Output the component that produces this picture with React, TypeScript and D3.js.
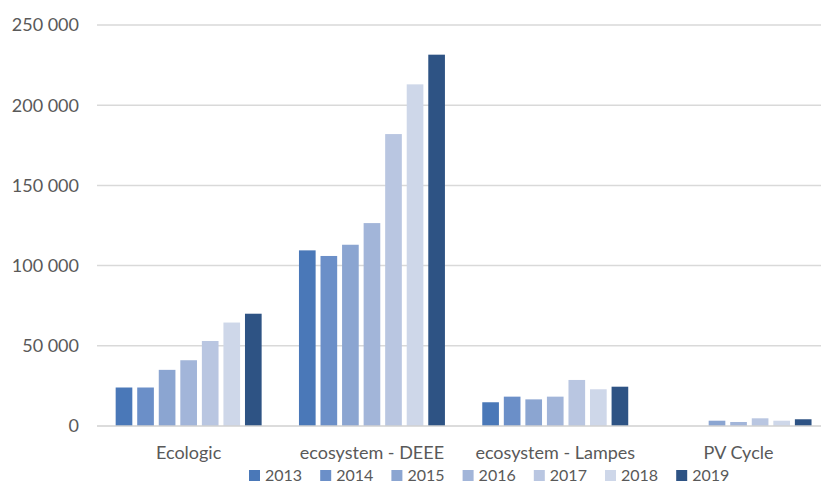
import React from "react";
import * as d3 from "d3";

const categories = ["Ecologic", "ecosystem - DEEE", "ecosystem - Lampes", "PV Cycle"];
const years = ["2013", "2014", "2015", "2016", "2017", "2018", "2019"];
// values per category, in order of years
const ecologic = [24000, 24000, 35000, 41000, 53000, 64500, 70000];
const deee = [109500, 106000, 113000, 126500, 182000, 213000, 231500];
const lampes = [14800, 18300, 16600, 18300, 28700, 22900, 24500];
const pvCycle = [0, 0, 3300, 2500, 4800, 3300, 4200];
const yTicks = [0, 50000, 100000, 150000, 200000, 250000];
const colors = ["#4a78b8", "#6b8fc8", "#8ba5d1", "#a2b5d9", "#b9c6e1", "#ced7e9", "#2e5384"];

const seriesByCategory = [ecologic, deee, lampes, pvCycle];

const W = 821;
const H = 485;
const left = 97;
const top = 25;
const bottom = 426;
const catStep = 183.3;

export default function App() {
  const x0 = d3.scaleBand<string>().domain(categories).range([left, left + catStep * categories.length]).padding(0);
  const x1 = d3.scaleBand<string>().domain(years).range([0, x0.bandwidth()]).paddingInner(0.227).paddingOuter(0.866);
  const y = d3.scaleLinear().domain([0, 250000]).range([bottom, top]);
  const fmt = (v: number) => d3.format(",")(v).replace(/,/g, " ");
  const font = "Lato, 'Open Sans', sans-serif";
  const legendStart = 249;
  const legendStep = 71.2;

  return (
    <svg width={W} height={H} style={{ position: "absolute", left: 0, top: 0, background: "#fff" }}>
      <rect x={0} y={0} width={W} height={H} fill="#fff" />
      {yTicks.map((t) => (
        <g key={t}>
          {t > 0 && <line x1={left} x2={W} y1={y(t)} y2={y(t)} stroke="#d9d9d9" strokeWidth={1.5} />}
          <text x={79} y={y(t)} dy="0.35em" textAnchor="end" fontFamily={font} fontSize={18} fill="#595959">
            {fmt(t)}
          </text>
        </g>
      ))}
      {categories.map((c, ci) => (
        <g key={c} transform={`translate(${x0(c)},0)`}>
          {years.map((yr, yi) => {
            const v = seriesByCategory[ci][yi];
            if (!v) return null;
            return (
              <rect key={yr} x={x1(yr)} y={y(v)} width={x1.bandwidth()} height={bottom - y(v)} fill={colors[yi]} />
            );
          })}
          <text x={x0.bandwidth() / 2} y={453} dy="0.35em" textAnchor="middle" fontFamily={font} fontSize={18} fill="#595959">
            {c}
          </text>
        </g>
      ))}
      <line x1={left} x2={W} y1={bottom} y2={bottom} stroke="#d0d0d0" strokeWidth={1.5} />
      {years.map((yr, i) => (
        <g key={yr} transform={`translate(${legendStart + i * legendStep},0)`}>
          <rect x={0} y={470} width={11} height={11} fill={colors[i]} />
          <text x={16} y={475.5} dy="0.35em" fontFamily={font} fontSize={16} fill="#595959">
            {yr}
          </text>
        </g>
      ))}
    </svg>
  );
}
